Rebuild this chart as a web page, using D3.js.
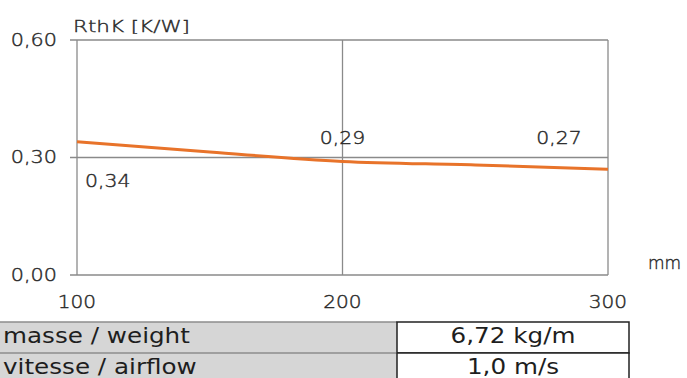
<!DOCTYPE html>
<html>
<head>
<meta charset="utf-8">
<script src="https://cdn.jsdelivr.net/npm/d3@7"></script>
<style>
html,body{margin:0;padding:0;background:#fff;}
svg{display:block;font-family:"DejaVu Sans","Noto Sans",sans-serif;}
.lt{font-weight:200;stroke:#2a2a2a;stroke-width:0.4px;}
</style>
</head>
<body>
<svg id="chart" width="687" height="378"></svg>
<script>
const xValues = [100, 150, 200, 250, 300];
const rthValues = [0.34, 0.314, 0.29, 0.281, 0.27];
const xTicks = [100, 200, 300];
const yTicks = [0, 0.30, 0.60];
const valueLabels = [
  {x: 100, v: 0.34, text: "0,34"},
  {x: 200, v: 0.29, text: "0,29"},
  {x: 300, v: 0.27, text: "0,27"}
];
const tableRows = [
  ["masse / weight", "6,72 kg/m"],
  ["vitesse / airflow", "1,0 m/s"]
];

const svg = d3.select("#chart");
const x = d3.scaleLinear().domain([100, 300]).range([77, 608]);
const y = d3.scaleLinear().domain([0, 0.6]).range([275, 40]);
const fmt = d => d3.format(".2f")(d).replace(".", ",");
const gridColor = "#8a8a8a";
const textColor = "#2a2a2a";

function addText(parent, px, py, txt, opt) {
  return parent.append("text")
    .attr("class", opt.cls || "lt")
    .attr("transform", `translate(${px},${py}) scale(${opt.sx || 1},1)`)
    .attr("dy", "0.36em")
    .attr("text-anchor", opt.anchor || "start")
    .attr("font-size", opt.size)
    .attr("fill", opt.fill || textColor)
    .text(txt);
}

// horizontal grid lines
svg.append("g").selectAll("line").data(yTicks).join("line")
  .attr("x1", 70).attr("x2", x(300))
  .attr("y1", d => y(d)).attr("y2", d => y(d))
  .attr("stroke", gridColor).attr("stroke-width", 1.3);

// vertical lines
svg.append("g").selectAll("line").data(xTicks).join("line")
  .attr("x1", d => x(d)).attr("x2", d => x(d))
  .attr("y1", y(0.6)).attr("y2", y(0))
  .attr("stroke", gridColor).attr("stroke-width", 1.3);

// y tick labels
const gy = svg.append("g");
yTicks.forEach(d => addText(gy, 57, y(d) - 0.5, fmt(d), {size: 17, sx: 1.22, anchor: "end"}));

// x tick labels
const gx = svg.append("g");
xTicks.forEach(d => addText(gx, x(d), 302, d, {size: 17, sx: 1.18, anchor: "middle"}));

// axis titles
addText(svg, 73, 26, "RthK [K/W]", {size: 16.5, sx: 1.3});
addText(svg, 648, 263, "mm", {size: 17, sx: 1.0});

// line
const line = d3.line().x((d, i) => x(xValues[i])).y(d => y(d)).curve(d3.curveMonotoneX);
svg.append("path").datum(rthValues)
  .attr("d", line).attr("fill", "none")
  .attr("stroke", "#e8732a").attr("stroke-width", 3);

// value labels
const labelPos = [
  {dx: 8, dy: 39.5, anchor: "start"},
  {dx: 0, dy: -23.5, anchor: "middle"},
  {dx: -49, dy: -31.5, anchor: "middle"}
];
const gl = svg.append("g");
valueLabels.forEach((d, i) => addText(gl, x(d.x) + labelPos[i].dx, y(d.v) + labelPos[i].dy, d.text,
  {size: 17, sx: 1.2, anchor: labelPos[i].anchor}));

// table
const rowTop = [322, 353];
const rowH = 31;
const leftW = 397, rightX = 397, rightW = 232;
const tg = svg.append("g");
tableRows.forEach((r, i) => {
  tg.append("rect").attr("x", 0).attr("y", rowTop[i]).attr("width", leftW).attr("height", rowH)
    .attr("fill", "#d6d6d6");
  tg.append("line").attr("x1", 0).attr("x2", leftW).attr("y1", rowTop[i]).attr("y2", rowTop[i])
    .attr("stroke", "#8c8c8c").attr("stroke-width", 1.5);
  tg.append("rect").attr("x", rightX).attr("y", rowTop[i]).attr("width", rightW).attr("height", rowH)
    .attr("fill", "#fff").attr("stroke", "#222").attr("stroke-width", 1.5);
  addText(tg, 3, rowTop[i] + 13, r[0], {size: 22, sx: 1.12, fill: "#1e1e1e", cls: "rg"});
  addText(tg, rightX + rightW / 2, rowTop[i] + 13, r[1], {size: 22, sx: 1.12, anchor: "middle", fill: "#1e1e1e", cls: "rg"});
});
</script>
</body>
</html>
